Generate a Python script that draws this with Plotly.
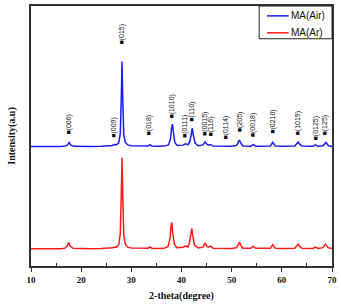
import plotly.graph_objects as go

# ---- data (intensity in arbitrary units above each baseline) ----
air_theta = [10, 12, 14, 16, 16.8, 17.3, 17.6, 17.9, 18.5, 20, 22, 24, 25.5, 26.2, 26.6, 27.0,
             27.5, 27.8, 28.0, 28.15, 28.3, 28.5, 28.8, 29.3, 30, 32, 33.3, 33.7, 34.1, 35,
             36.5, 37.4, 37.8, 38.0, 38.2, 38.4, 38.7, 39.2, 40.3, 40.8, 41.3, 41.7, 41.95,
             42.15, 42.35, 42.7, 43.3, 44.3, 44.7, 45.1, 45.4, 45.8, 46.3, 47.5, 48.8, 50,
             51.0, 51.3, 51.55, 51.8, 52.2, 53.8, 54.3, 54.8, 56, 57.7, 58.2, 58.7, 60, 62.6,
             63.0, 63.25, 63.5, 64.0, 66.2, 66.7, 67.2, 68.2, 68.8, 69.3, 70]
air_int = [0.5, 0.3, 0.4, 0.5, 0.8, 2.0, 4.5, 2.0, 0.6, 0.4, 0.5, 0.7, 1.0, 1.5, 2.5, 2.0,
           4.0, 14, 50, 86, 45, 12, 4.5, 2.0, 1.2, 0.6, 0.9, 2.2, 0.9, 0.6,
           0.8, 2.0, 8, 18, 23, 14, 4, 1.5, 1.8, 3.2, 2.2, 6, 14,
           19, 12, 4, 1.2, 2.0, 5, 2.5, 2.0, 2.5, 0.8, 0.6, 1.0, 0.6,
           1.5, 4.5, 7, 4, 1.0, 0.7, 2.2, 0.7, 0.5, 0.8, 4.5, 0.8, 0.6, 0.9,
           3.5, 5, 3, 0.9, 0.6, 2.0, 0.6, 1.2, 4.5, 1.2, 0.5]

ar_theta = [10, 12, 14, 16, 16.8, 17.2, 17.5, 17.8, 18.4, 20, 22, 24, 25.5, 26.2, 26.6, 27.0,
            27.5, 27.8, 28.0, 28.15, 28.3, 28.5, 28.8, 29.3, 30, 32, 33.3, 33.7, 34.1, 35,
            36.5, 37.3, 37.7, 37.9, 38.05, 38.25, 38.6, 39.1, 40.3, 40.8, 41.3, 41.6, 41.85,
            42.05, 42.25, 42.6, 43.3, 44.3, 44.7, 45.1, 45.4, 45.8, 46.3, 47.5, 48.8, 50,
            51.0, 51.3, 51.55, 51.8, 52.2, 53.8, 54.3, 54.8, 56, 57.7, 58.2, 58.7, 60, 62.6,
            63.0, 63.25, 63.5, 64.0, 66.2, 66.7, 67.2, 68.2, 68.7, 69.2, 70]
ar_int = [0.5, 0.4, 0.4, 0.5, 1.0, 3.0, 7, 3.0, 0.8, 0.5, 0.5, 0.7, 1.0, 1.5, 2.0, 2.0,
          4.5, 16, 55, 92, 50, 14, 5, 2.0, 1.2, 0.6, 0.9, 2.2, 0.9, 0.6,
          0.8, 2.5, 10, 22, 27, 16, 5, 1.5, 1.8, 3.2, 2.2, 7, 16,
          21, 13, 4, 1.2, 2.0, 6, 2.5, 2.2, 3.0, 0.8, 0.6, 0.9, 0.6,
          1.5, 4.5, 7, 4, 1.0, 0.8, 2.8, 0.8, 0.5, 0.8, 4.5, 0.8, 0.6, 0.9,
          3.5, 5, 3, 0.9, 0.6, 2.0, 0.6, 1.5, 5, 1.5, 0.5]

peak_labels = ["(006)", "(009)", "(015)", "(018)", "(1010)", "(0111)", "(110)", "(0015)",
               "(116)", "(0114)", "(205)", "(0018)", "(0210)", "(1019)", "(0125)", "(125)"]
peak_theta = [17.6, 26.6, 28.2, 33.7, 38.2, 40.8, 42.2, 44.7, 45.8, 48.8, 51.6, 54.3, 58.2,
              63.3, 66.7, 68.8]
label_level = [130, 127, 221, 130, 147, 127, 143, 129, 128, 125, 133, 128, 131, 130, 125, 130]

series_names = ["MA(Air)", "MA(Ar)"]
series_colors = ["#1a1aff", "#ff1a1a"]
air_offset = 120
ar_offset = 17

fig = go.Figure()
fig.add_trace(go.Scatter(x=air_theta, y=[v + air_offset for v in air_int], mode="lines",
                         name=series_names[0], line=dict(color=series_colors[0], width=1.5)))
fig.add_trace(go.Scatter(x=ar_theta, y=[v + ar_offset for v in ar_int], mode="lines",
                         name=series_names[1], line=dict(color=series_colors[1], width=1.5)))

for lab, x, lv in zip(peak_labels, peak_theta, label_level):
    fig.add_annotation(x=x, y=lv, text="■" + lab, textangle=-90, showarrow=False,
                       xanchor="center", yanchor="bottom",
                       font=dict(family="Liberation Sans", size=7, color="#111"))

# legend drawn in paper coordinates
fig.add_shape(type="rect", xref="paper", yref="paper", x0=0.758, x1=1.0, y0=0.874, y1=1.0,
              line=dict(color="#222", width=1), fillcolor="white", layer="above")
for i, (nm, col) in enumerate(zip(series_names, series_colors)):
    yy = 0.962 - i * 0.065
    fig.add_shape(type="line", xref="paper", yref="paper", x0=0.784, x1=0.856, y0=yy, y1=yy,
                  line=dict(color=col, width=1.5), layer="above")
    fig.add_annotation(xref="paper", yref="paper", x=0.858, y=yy, text=nm, showarrow=False,
                       xanchor="left", yanchor="middle",
                       font=dict(family="Liberation Sans", size=10, color="#111"))

fig.update_layout(
    width=341, height=304,
    margin=dict(l=31, r=4, t=5, b=37),
    paper_bgcolor="white", plot_bgcolor="white",
    showlegend=False,
    xaxis=dict(range=[10, 70], tickvals=[10, 20, 30, 40, 50, 60, 70], ticks="outside", ticklen=4,
               tickwidth=1.2, tickcolor="#333",
               minor=dict(tickvals=[15, 25, 35, 45, 55, 65], ticks="inside", ticklen=3, tickcolor="#333"),
               showline=True, mirror=True, linecolor="#333", linewidth=1.5, showgrid=False, zeroline=False,
               tickfont=dict(family="Liberation Serif", size=9, color="#111", weight="bold"),
               title=dict(text="2-theta(degree)", standoff=8,
                          font=dict(family="Liberation Serif", size=10, color="#111", weight="bold"))),
    yaxis=dict(range=[0, 262], showticklabels=False, ticks="", showline=True, mirror=True,
               linecolor="#333", linewidth=1.5, showgrid=False, zeroline=False,
               title=dict(text="Intensity(a.u)", standoff=12,
                          font=dict(family="Liberation Serif", size=10, color="#111", weight="bold"))),
)

fig.write_html("out.html")
